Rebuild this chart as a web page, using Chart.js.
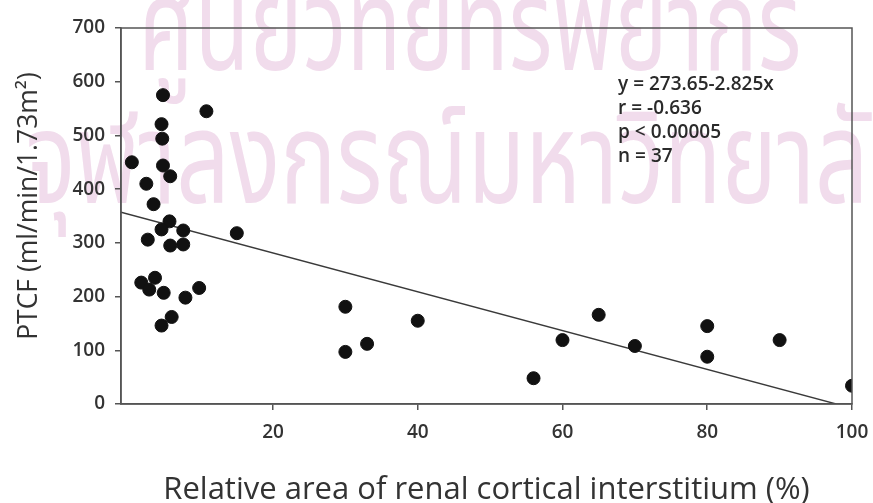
<!DOCTYPE html>
<html>
<head>
<meta charset="utf-8">
<script src="https://cdn.jsdelivr.net/npm/chart.js@4.4.1/dist/chart.umd.min.js"></script>
<style>
html,body{margin:0;padding:0;background:#fff;}
#wrap{width:873px;height:503px;position:relative;}
</style>
</head>
<body>
<div id="wrap"><canvas id="c" width="873" height="503"></canvas></div>
<script>
// Data
const interstitiumPct = [0.5, 2.5, 3.5, 4.8, 4.6, 4.7, 4.8, 5.8, 10.8, 5.7, 4.6, 7.6, 2.7, 5.8, 7.6, 15, 1.8, 3.7, 2.9, 4.9, 7.9, 9.8, 6.0, 4.6,
  30, 30, 33, 40, 56, 60, 65, 70, 80, 80, 90, 100];
const ptcf = [450, 410, 372, 575, 521, 494, 444, 424, 545, 340, 325, 323, 306, 295, 297, 318, 226, 235, 213, 207, 198, 216, 162, 146,
  181, 97, 112, 155, 48, 119, 166, 108, 145, 88, 119, 34];
const fitLineX = [-1, 97.8];
const fitLineY = [357, 0];
const xTicks = [20, 40, 60, 80, 100];
const yTicks = [0, 100, 200, 300, 400, 500, 600, 700];
const statsText = ['y = 273.65-2.825x', 'r = -0.636', 'p < 0.00005', 'n = 37'];
const yTitle = 'PTCF (ml/min/1.73m²)';
const xTitle = 'Relative area of renal cortical interstitium (%)';
const watermark1 = 'ศูนย์วิทยทรัพยากร';
const watermark2 = 'จุฬาลงกรณ์มหาวิทยาลัย';

const points = interstitiumPct.map((x, i) => ({x: x, y: ptcf[i]}));
const linePts = fitLineX.map((x, i) => ({x: x, y: fitLineY[i]}));

const FONT = '"Open Sans", "Noto Sans", sans-serif';
const TXT = '#333';

const decor = {
  id: 'decor',
  beforeDraw(chart) {
    const ctx = chart.ctx;
    ctx.save();
    ctx.fillStyle = '#f1dcec';
    ctx.textBaseline = 'alphabetic';
    ctx.font = '86px "Noto Sans Thai", "Noto Sans", "DejaVu Sans", sans-serif';
    ctx.textAlign = 'center';
    ctx.save();
    ctx.translate(470, 70);
    ctx.scale(1.04, 1.5);
    ctx.fillText(watermark1, 0, 0);
    ctx.restore();
    ctx.save();
    ctx.translate(475, 203);
    ctx.scale(1.09, 1.5);
    ctx.fillText(watermark2, 0, 0);
    ctx.restore();
    ctx.restore();
  },
  afterDatasetsDraw(chart) {
    const ctx = chart.ctx;
    const a = chart.chartArea;
    ctx.save();
    ctx.strokeStyle = '#555';
    ctx.lineWidth = 1.5;
    ctx.strokeRect(a.left, a.top, a.right - a.left, a.bottom - a.top);
    ctx.fillStyle = '#2a2a2a';
    ctx.font = '600 19px ' + FONT;
    ctx.textAlign = 'left';
    ctx.textBaseline = 'middle';
    const x0 = a.left + (a.right - a.left) * 0.68;
    statsText.forEach((t, i) => {
      ctx.fillText(t, x0, a.top + 57 + i * 24);
    });
    // y-axis title
    ctx.fillStyle = TXT;
    ctx.font = '500 26.5px ' + FONT;
    ctx.textAlign = 'center';
    ctx.textBaseline = 'middle';
    ctx.translate(29, 206);
    ctx.rotate(-Math.PI / 2);
    ctx.fillText(yTitle, 0, 0);
    ctx.restore();
  }
};

new Chart(document.getElementById('c'), {
  type: 'scatter',
  data: {
    datasets: [
      {
        data: points,
        backgroundColor: '#111',
        borderColor: '#111',
        pointRadius: 6.5,
        pointHoverRadius: 6.5,
        order: 1
      },
      {
        type: 'line',
        data: linePts,
        borderColor: '#3a3a3a',
        borderWidth: 1.3,
        pointRadius: 0,
        fill: false,
        order: 2
      }
    ]
  },
  options: {
    responsive: false,
    animation: false,
    events: [],
    layout: {padding: {top: 28, right: 21, left: 0, bottom: 0}},
    plugins: {legend: {display: false}, tooltip: {enabled: false}},
    scales: {
      x: {
        type: 'linear',
        min: -1,
        max: 100,
        afterBuildTicks(s) { s.ticks = xTicks.map(v => ({value: v})); },
        afterFit(s) { s.height = 99; s.paddingRight = 0; s.paddingLeft = 0; },
        grid: {display: true, drawOnChartArea: false, drawTicks: true, tickLength: 6, color: '#555', lineWidth: 1.5},
        border: {display: true, color: '#555', width: 1.5},
        ticks: {color: TXT, font: {family: FONT, size: 19, weight: '600'}, padding: 11, maxRotation: 0},
        title: {display: true, text: xTitle, color: TXT,
          font: {family: FONT, size: 31, weight: '500', lineHeight: 0.85}, padding: {top: 16, bottom: 0}}
      },
      y: {
        type: 'linear',
        min: 0,
        max: 700,
        afterBuildTicks(s) { s.ticks = yTicks.map(v => ({value: v})); },
        afterFit(s) { s.width = 121; s.paddingTop = 0; s.paddingBottom = 0; },
        grid: {display: true, drawOnChartArea: false, drawTicks: true, tickLength: 6, color: '#555', lineWidth: 1.5},
        border: {display: true, color: '#555', width: 1.5},
        ticks: {color: TXT, font: {family: FONT, size: 19, weight: '600'}, padding: 10}
      }
    }
  },
  plugins: [decor]
});
</script>
</body>
</html>
